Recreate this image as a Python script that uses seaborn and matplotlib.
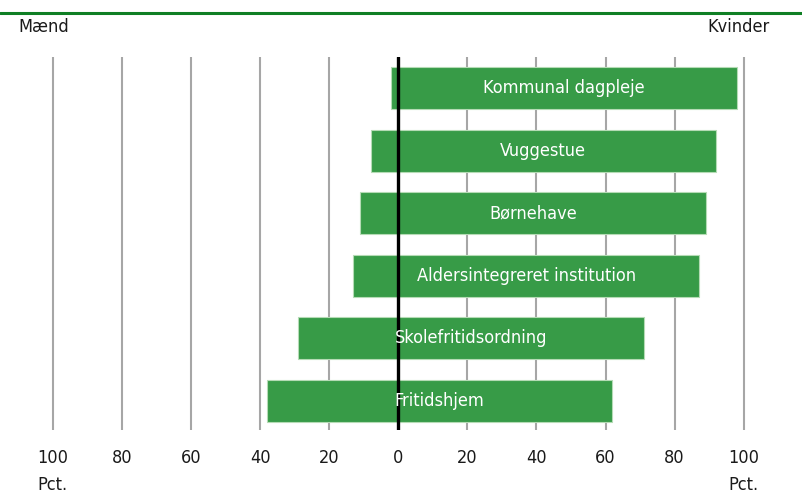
import matplotlib
matplotlib.use("Agg")
import matplotlib.pyplot as plt
from matplotlib.lines import Line2D
import seaborn as sns
import pandas as pd

categories = ["Kommunal dagpleje", "Vuggestue", "Børnehave",
              "Aldersintegreret institution", "Skolefritidsordning", "Fritidshjem"]
maend = [2, 8, 11, 13, 29, 38]
kvinder = [98, 92, 89, 87, 71, 62]
tick_values = [-100, -80, -60, -40, -20, 0, 20, 40, 60, 80, 100]
tick_labels = ["100", "80", "60", "40", "20", "0", "20", "40", "60", "80", "100"]

sns.set_theme(style="white")
plt.rcParams['font.family'] = ['DejaVu Sans']
plt.rcParams['font.stretch'] = 'condensed'

df = pd.DataFrame({"kategori": categories, "maend": [-m for m in maend], "kvinder": kvinder})

fig = plt.figure(figsize=(8.02, 5.0), dpi=100)
ax = fig.add_axes([35.5 / 802, 0.14, (761 - 35.5) / 802, 0.886 - 0.14])

bar_color = "#379b47"
edge_color = "#b5dbb5"
sns.barplot(data=df, x="kvinder", y="kategori", orient="h", color=bar_color,
            edgecolor=edge_color, linewidth=0.8, width=0.67, ax=ax, saturation=1)
sns.barplot(data=df, x="maend", y="kategori", orient="h", color=bar_color,
            edgecolor=edge_color, linewidth=0.8, width=0.67, ax=ax, saturation=1)

ax.set_xlim(-105, 105)
ax.set_ylim(5.47, -0.5)

for v in tick_values:
    if v == 0:
        ax.axvline(0, color="black", lw=2.4, zorder=5)
    else:
        ax.axvline(v, color="#a6a6a6", lw=1.5, zorder=0)

for i, (cat, m, k) in enumerate(zip(categories, maend, kvinder)):
    ax.text((k - m) / 2, i, cat, color="white", ha="center", va="center",
            fontsize=13, zorder=6, fontstretch="condensed")

ax.set_xticks(tick_values)
ax.set_xticklabels(tick_labels, fontsize=13, color="#1a1a1a", fontstretch="condensed")
ax.tick_params(axis="x", length=0, pad=14)
ax.set_yticks([])
ax.set_xlabel("")
ax.set_ylabel("")
for s in ax.spines.values():
    s.set_visible(False)

def fx(v):
    return (398.3 + v * 3.455) / 802

kw = dict(fontsize=13, color="#1a1a1a", fontstretch="condensed")
fig.text(fx(-100), 1 - 485 / 500, "Pct.", ha="center", va="center", **kw)
fig.text(fx(100), 1 - 485 / 500, "Pct.", ha="center", va="center", **kw)
fig.text(18 / 802, 1 - 27 / 500, "Mænd", ha="left", va="center", **kw)
fig.text(770 / 802, 1 - 27 / 500, "Kvinder", ha="right", va="center", **kw)

fig.add_artist(Line2D([0, 1], [1 - 13 / 500, 1 - 13 / 500], color="#0f7f24", lw=2.2,
                      transform=fig.transFigure))

fig.savefig("out.png", dpi=100)
